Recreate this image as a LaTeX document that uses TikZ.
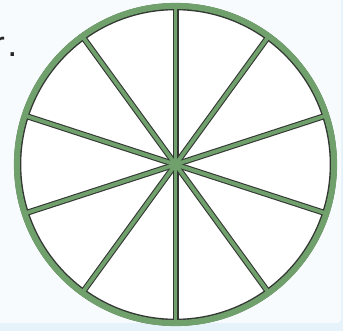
\documentclass[tikz,border=0pt]{standalone}
\usepackage{fontspec}
\setmainfont{Liberation Sans}
\usetikzlibrary{calc}
\definecolor{bgpale}{HTML}{F8FBFD}
\definecolor{bgstrip}{HTML}{E6F3FA}
\definecolor{rimgreen}{RGB}{112,160,108}
\definecolor{rimdark}{HTML}{333833}
\tikzset{
  darkedge/.style={draw=rimdark, line width=7.2pt},
  greenfill/.style={draw=rimgreen, line width=5pt},
}
\begin{document}
\begin{tikzpicture}[x=1pt,y=-1pt]
\useasboundingbox (0,0) rectangle (343,331);
\clip (0,0) rectangle (343,331);
\fill[bgstrip] (0,0) rectangle (343,331);
\fill[bgpale, rounded corners=4pt] (-10,-10) rectangle (341,323);
\fill[bgpale] (-10,-10) rectangle (330,323);
\node[anchor=base east, font=\fontsize{36}{36}\selectfont, text=black!85, inner sep=0pt] (lbl) at (17.5,57) {r\kern2.5pt.};
\coordinate (c) at (175.5,164.5);
% dark outlines
\draw[darkedge, fill=white] (c) circle[radius=157.8];
\foreach \a in {90,126,...,414}{
  \draw[darkedge, line width=6pt] (c) -- ($(c)+(\a:158)$);
}
% green bands
\foreach \a in {90,126,...,414}{
  \draw[greenfill, line width=3.8pt] (c) -- ($(c)+(\a:158)$);
}
\draw[greenfill, line width=6pt] (c) circle[radius=158.6];
\fill[rimgreen] (c) circle[radius=4];
\end{tikzpicture}
\end{document}
